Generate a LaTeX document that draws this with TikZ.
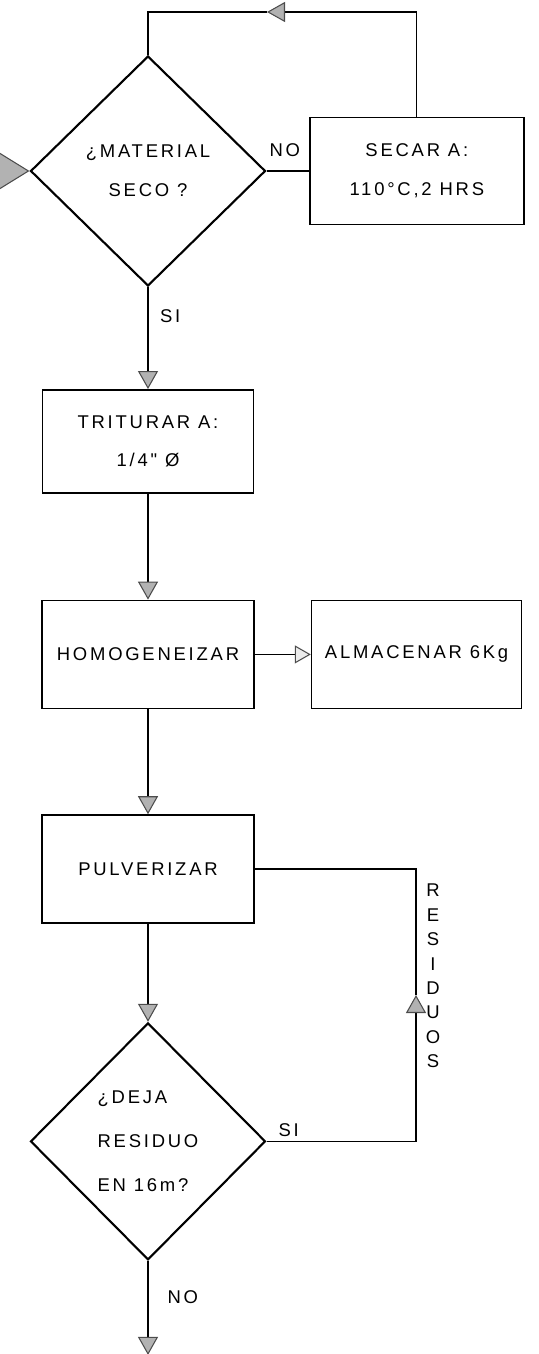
\documentclass[tikz,border=0pt]{standalone}
\usepackage{fontspec}
\newfontfamily\rotulo[LetterSpace=15]{Liberation Sans}
\usetikzlibrary{positioning, shapes.geometric, arrows.meta}

\tikzset{
  proceso/.style={draw, line width=0.9pt, minimum width=4.24cm, minimum height=2.16cm,
                  align=center, font=\rotulo\fontsize{10.5}{22}\selectfont},
  decision/.style={draw, diamond, aspect=1, inner sep=0pt, line width=1.2pt,
                   minimum width=4.7cm, minimum height=4.6cm, align=center,
                   font=\rotulo\fontsize{10.5}{22}\selectfont},
  etiqueta/.style={inner sep=1pt, font=\rotulo\fontsize{10.5}{12}\selectfont},
  linea/.style={line width=0.6pt},
  flecha/.style={linea, -{Triangle[width=4mm, length=3.6mm, color=gray!60!black, fill=gray!60]}},
  flecha grande/.style={linea, -{Triangle[width=8.6mm, length=7mm, color=gray!60!black, fill=gray!60]}},
  flecha abierta/.style={linea, -{Triangle[width=3.6mm, length=3.2mm, color=gray!60!black, fill=gray!15]}},
}

\begin{document}
\begin{tikzpicture}[node distance=2cm]
  \useasboundingbox (0,0) rectangle (10.76,-27.08);
  % Secado
  \node[decision] (material) at (2.96,-3.42) {¿MATERIAL\\SECO ?};
  \node[proceso, minimum width=4.28cm, minimum height=2.14cm,
        right=0.85cm of material] (secar) {SECAR A:\\110°C,2 HRS};
  \coordinate[left=0.9cm of material.west] (entrada);
  \coordinate (retorno) at (5.34,-0.24);
  % Molienda
  \node[proceso, minimum width=4.22cm, minimum height=2.06cm,
        below=2.04cm of material] (triturar) {TRITURAR A:\\1/4" Ø};
  \node[proceso, below=2.12cm of triturar] (homogeneizar) {HOMOGENEIZAR};
  \node[proceso, minimum width=4.2cm,
        right=1.12cm of homogeneizar] (almacenar) {ALMACENAR 6Kg};
  \node[proceso, below=2.1cm of homogeneizar] (pulverizar) {PULVERIZAR};
  % Tamizado
  \node[decision, align=left, minimum height=4.74cm, font=\rotulo\fontsize{10.5}{25}\selectfont,
        below=1.96cm of pulverizar] (deja) {¿DEJA\\RESIDUO\\EN 16m?};
  \coordinate[below=1.88cm of deja] (fin);
  \coordinate (residuo) at (8.32,-19.9);
  % Conectores
  \draw[flecha grande] (entrada) -- (material.west);
  \draw[linea] (material.east) -- (secar.west);
  \draw[flecha] (secar.north) |- (retorno);
  \draw[linea] (retorno) -| (material.north);
  \draw[flecha] (material.south) -- (triturar.north);
  \draw[flecha] (triturar) -- (homogeneizar);
  \draw[flecha abierta] (homogeneizar) -- (almacenar);
  \draw[flecha] (homogeneizar) -- (pulverizar);
  \draw[flecha] (pulverizar) -- (deja);
  \draw[flecha] (deja.east) -| (residuo);
  \draw[linea] (residuo) |- (pulverizar.east);
  \draw[flecha] (deja) -- (fin);
  % Etiquetas
  \node[etiqueta, above right=0.25cm and 0.02cm of material.east] (no1) {NO};
  \node[etiqueta, below right=0.4cm and 0.2cm of material.south] (si1) {SI};
  \node[etiqueta, above right=0.05cm and 0.2cm of deja.east] (si2) {SI};
  \node[etiqueta, below right=0.55cm and 0.35cm of deja.south] (no2) {NO};
  \node[etiqueta, align=center, font=\rotulo\fontsize{10.5}{13.9}\selectfont]
        (residuos) at (8.66,-19.52) {R\\E\\S\\I\\D\\U\\O\\S};
\end{tikzpicture}
\end{document}
